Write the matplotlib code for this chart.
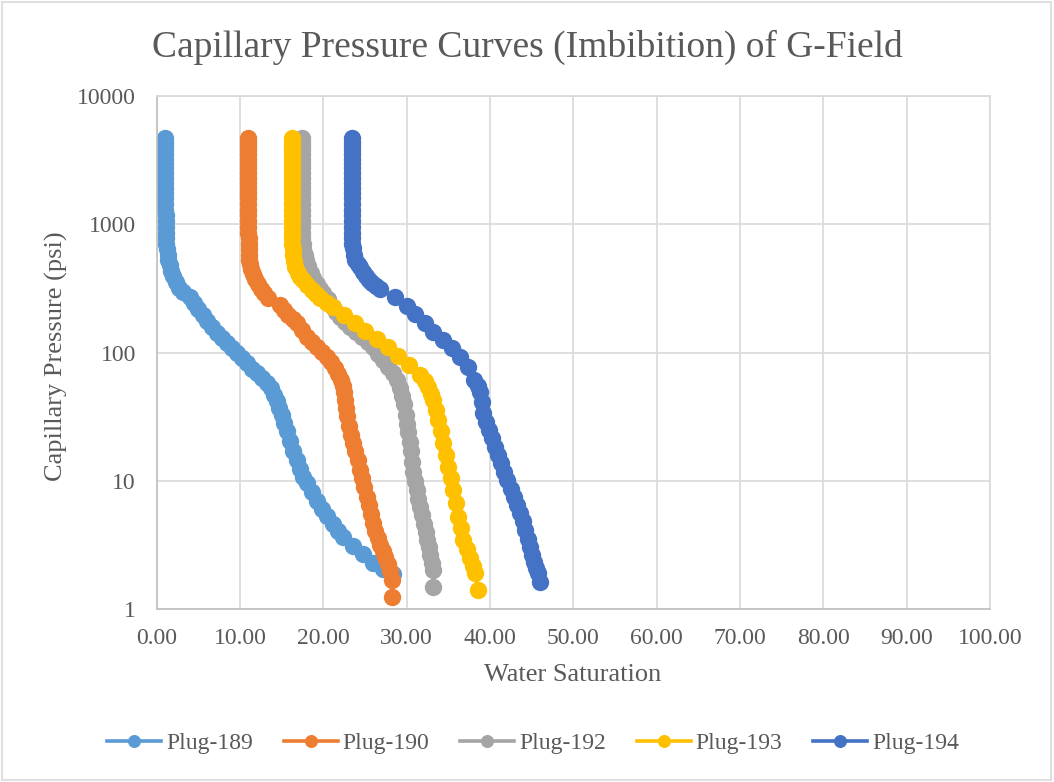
import matplotlib
matplotlib.use("Agg")
import matplotlib.pyplot as plt
from matplotlib.patches import Rectangle

plt.rcParams['font.family'] = ['Liberation Serif', 'DejaVu Serif']

# upper (flat) part of every curve shares the same pressure steps
pc_top = [4700, 4400, 4100, 3800, 3500, 3250, 3000, 2750, 2500, 2300, 2100,
          1900, 1750, 1600, 1450, 1300, 1180, 1060, 950, 860, 780, 700]

# Plug-189
sw_189 = [1.00, 1.00, 1.00, 1.00, 1.00, 1.00, 1.01, 1.01, 1.01, 1.02, 1.02,
          1.02, 1.03, 1.03, 1.04, 1.05, 1.06, 1.07, 1.08, 1.10, 1.12, 1.15,
          1.20, 1.30, 1.40, 1.55, 1.75, 2.00, 2.30, 2.70, 3.10, 4.00, 4.50,
          5.00, 5.50, 6.00, 6.60, 7.20, 7.80, 8.40, 9.00, 9.60, 10.2, 10.8,
          11.4, 12.0, 12.6, 13.2, 13.7, 14.1, 14.4, 14.7, 15.0, 15.3, 15.6,
          16.0, 16.4, 16.8, 17.2, 17.6, 18.0, 18.6, 19.2, 19.8, 20.4, 21.1,
          21.8, 22.4, 23.6, 24.7, 26.0, 27.2, 28.3]
pc_189 = pc_top + [640, 580, 530, 480, 435, 395, 355, 320, 295, 272, 245,
                   218, 195, 175, 158, 142, 130, 118, 108, 99, 91, 83,
                   75, 69, 63, 58, 53, 47, 42, 37, 33, 28.5, 24.5,
                   20.5, 17.0, 14.5, 12.5, 10.8, 9.6, 8.2, 7.0, 6.1, 5.3, 4.6,
                   4.1, 3.7, 3.1, 2.7, 2.3, 2.05, 1.9]

# Plug-190
sw_190 = [11.0] * 20 + [11.02, 11.03, 11.04, 11.05, 11.1, 11.2, 11.35, 11.55,
                        11.8, 12.1, 12.5, 12.9, 13.3, 14.8, 15.3, 15.8, 16.3,
                        16.8, 17.4, 18.0, 18.6, 19.2, 19.8, 20.4, 20.9, 21.4,
                        21.8, 22.1, 22.3, 22.5, 22.6, 22.7, 22.85, 23.1, 23.35,
                        23.6, 23.85, 24.1, 24.4, 24.65, 24.9, 25.2, 25.45, 25.7,
                        25.95, 26.25, 26.55, 26.85, 27.15, 27.45, 27.75, 28.0,
                        28.2, 28.2]
pc_190 = pc_top + [640, 580, 530, 490, 450, 410, 375, 345, 315, 290, 268,
                   235, 215, 197, 183, 170, 150, 133, 121, 111, 101, 92,
                   84, 76, 68, 61, 55, 49, 43, 37, 32, 27, 23,
                   19.8, 17, 14.5, 12.2, 10.5, 9.0, 7.5, 6.5, 5.5, 4.7,
                   4.1, 3.6, 3.2, 2.85, 2.55, 2.25, 1.98, 1.70, 1.25]

# Plug-192
sw_192 = [17.4] * 16 + [17.42, 17.43, 17.44, 17.45, 17.47, 17.5, 17.6, 17.75,
                        17.95, 18.2, 18.5, 18.8, 19.2, 19.6, 20.0, 20.5, 21.1,
                        21.5, 22.0, 22.6, 23.2, 23.9, 24.6, 25.3, 26.0, 26.6,
                        27.2, 27.8, 28.4, 28.8, 29.2, 29.45, 29.7, 29.9, 30.05,
                        30.2, 30.35, 30.5, 30.65, 30.8, 31.0, 31.25, 31.4, 31.6,
                        31.85, 32.1, 32.3, 32.45, 32.65, 32.8, 33.0, 33.2, 33.2]
pc_192 = pc_top + [640, 580, 525, 470, 420, 382, 345, 315, 292, 260, 228,
                   208, 190, 174, 159, 145, 133, 121, 111, 98, 88, 78,
                   70, 61, 53, 46, 39.5, 33, 28, 24, 20, 17, 14,
                   11.8, 10.0, 8.5, 7.3, 6.3, 5.4, 4.6, 4.0, 3.5, 3.05,
                   2.66, 2.3, 2.03, 1.50]

# Plug-193
sw_193 = [16.2] * 18 + [16.22, 16.23, 16.25, 16.27, 16.3, 16.3, 16.45, 16.65,
                        16.9, 17.2, 17.55, 18.0, 18.6, 19.1, 19.6, 20.4, 21.2,
                        22.5, 23.8, 25.0, 26.4, 27.8, 29.0, 30.3, 31.6, 32.2,
                        32.6, 32.9, 33.2, 33.5, 33.8, 34.1, 34.4, 34.7, 34.97,
                        35.3, 35.6, 35.9, 36.2, 36.5, 36.8, 37.2, 37.6, 37.9,
                        38.2, 38.6]
pc_193 = pc_top + [640, 580, 520, 465, 420, 390, 368, 335, 308, 285, 267,
                   245, 227, 196, 170, 148, 128, 111, 94, 80, 67, 60,
                   54, 48, 43, 36, 30, 24.5, 19.8, 16, 12.9, 10.5, 8.5,
                   6.7, 5.25, 4.3, 3.5, 2.95, 2.52, 2.2, 1.92, 1.42]

# Plug-194
sw_194 = [23.4] * 16 + [23.41, 23.42, 23.43, 23.44, 23.45, 23.47, 23.5, 23.65,
                        23.8, 24.1, 24.4, 24.75, 25.1, 25.45, 25.8, 26.3, 26.8,
                        28.6, 30.05, 31.0, 32.2, 33.2, 34.4, 35.45, 36.4, 37.4,
                        38.1, 38.5, 38.8, 39.0, 39.2, 39.55, 39.9, 40.25, 40.6,
                        40.95, 41.3, 41.7, 42.05, 42.5, 42.9, 43.25, 43.6, 43.9,
                        44.2, 44.5, 44.8, 45.05, 45.3, 45.5, 45.7, 46.0]
pc_194 = pc_top + [650, 580, 526, 490, 465, 428, 395, 370, 349, 330, 313,
                   272, 231, 200, 170, 145, 126, 109, 92, 77, 61, 55,
                   49, 41, 34, 29, 25, 21.5, 18.4, 16, 13.8, 11.8, 10.2,
                   8.7, 7.5, 6.5, 5.65, 4.85, 4.16, 3.55, 3.07, 2.65, 2.34,
                   2.1, 1.92, 1.64]

labels = ['Plug-189', 'Plug-190', 'Plug-192', 'Plug-193', 'Plug-194']
colors = ['#5B9BD5', '#ED7D31', '#A5A5A5', '#FFC000', '#4472C4']
x_ticks = [0, 10, 20, 30, 40, 50, 60, 70, 80, 90, 100]
y_ticks = [1, 10, 100, 1000, 10000]

txt = '#595959'
grid = '#D9D9D9'

fig = plt.figure(figsize=(10.54, 7.82), dpi=100)
fig.patches.append(Rectangle((0.0015, 0.003), 0.996, 0.994, transform=fig.transFigure,
                             fill=False, edgecolor=grid, lw=1.2))

ax = fig.add_axes([0.1487, 0.2206, 0.7906, 0.6568])

series = [(sw_189, pc_189), (sw_190, pc_190), (sw_192, pc_192),
          (sw_193, pc_193), (sw_194, pc_194)]
for (sw, pc), lab, col in zip(series, labels, colors):
    ax.plot(sw, pc, color=col, lw=2.6, marker='o', markersize=12.5,
            markeredgewidth=0, label=lab)

ax.set_yscale('log')
ax.set_xlim(0, 100)
ax.set_ylim(1, 10000)
ax.set_xticks(x_ticks)
ax.set_xticklabels(['%.2f' % v for v in x_ticks])
ax.set_yticks(y_ticks)
ax.set_yticklabels([str(v) for v in y_ticks])
ax.minorticks_off()
ax.tick_params(length=0, labelsize=17, colors=txt)
ax.tick_params(axis='y', pad=15)
ax.tick_params(axis='x', pad=13)
ax.grid(True, color=grid, lw=1.2)
ax.set_axisbelow(True)
for s in ['top', 'right']:
    ax.spines[s].set_color(grid)
    ax.spines[s].set_linewidth(1.2)
for s in ['left', 'bottom']:
    ax.spines[s].set_color('#BFBFBF')
    ax.spines[s].set_linewidth(1.2)

fig.text(0.5, 0.939, 'Capillary Pressure Curves (Imbibition) of G-Field',
         ha='center', va='center', fontsize=27, color=txt)
fig.text(0.5436, 1 - 675 / 782, 'Water Saturation', ha='center', va='center',
         fontsize=19, color=txt)
fig.text(56 / 1054, 1 - 356 / 782, 'Capillary Pressure (psi)', ha='center',
         va='center', rotation=90, fontsize=19, color=txt)

leg = fig.legend(loc='center', bbox_to_anchor=(533 / 1054, 1 - 743 / 782),
                 ncol=5, frameon=False, fontsize=17, handlelength=2.3,
                 handletextpad=0.2, columnspacing=1.3, markerscale=0.75)
for t in leg.get_texts():
    t.set_color(txt)

fig.savefig('out.png', dpi=100)
